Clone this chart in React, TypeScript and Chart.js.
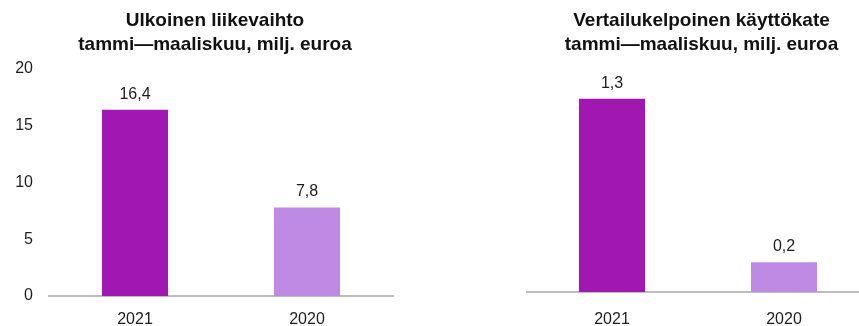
import React, { useEffect, useRef } from 'react';
import { Chart, registerables } from 'chart.js';

Chart.register(...registerables);

// ---- data ----
const categories = ['2021', '2020'];
const revenueValues = [16.4, 7.8];
const ebitdaValues = [1.3, 0.2];
const revenueTitle = ['Ulkoinen liikevaihto', 'tammi—maaliskuu, milj. euroa'];
const ebitdaTitle = ['Vertailukelpoinen käyttökate', 'tammi—maaliskuu, milj. euroa'];
const revenueTicks = [0, 5, 10, 15, 20];
const ebitdaMax = 1.5;
const barColors = ['#A117B1', '#BE8AE4'];

const FONT = '"Liberation Sans", Arial, sans-serif';
const TEXT = '#1e1e1e';

const valueLabels = {
  id: 'valueLabels',
  afterDatasetsDraw(chart: any) {
    const ctx = chart.ctx;
    chart.data.datasets.forEach((ds: any, di: number) => {
      const meta = chart.getDatasetMeta(di);
      meta.data.forEach((bar: any, i: number) => {
        const v = ds.data[i] as number;
        ctx.save();
        ctx.font = `16px ${FONT}`;
        ctx.fillStyle = TEXT;
        ctx.textAlign = 'center';
        ctx.textBaseline = 'alphabetic';
        ctx.fillText(v.toFixed(1).replace('.', ','), bar.x, bar.y - 11);
        ctx.restore();
      });
    });
  },
};

type PanelProps = {
  values: number[];
  title: string[];
  left: number;
  width: number;
  showY: boolean;
  yWidth: number;
  rightWidth: number;
  max: number;
  ticks?: number[];
  xPad: number;
  xHeight: number;
};

function BarPanel(p: PanelProps) {
  const ref = useRef<HTMLCanvasElement>(null);
  useEffect(() => {
    if (!ref.current) return;
    const chart = new Chart(ref.current, {
      type: 'bar',
      data: {
        labels: categories,
        datasets: [
          {
            data: p.values,
            backgroundColor: barColors,
            borderWidth: 0,
            barPercentage: 0.384,
            categoryPercentage: 1,
          },
        ],
      },
      options: {
        responsive: false,
        animation: false,
        layout: { padding: 0 },
        plugins: {
          legend: { display: false },
          tooltip: { enabled: false },
          title: {
            display: true,
            text: p.title,
            color: '#111',
            font: { family: FONT, size: 19, weight: 'bold', lineHeight: 24 / 19 },
            padding: { top: 9, bottom: 12 },
          },
        },
        scales: {
          x: {
            grid: { display: false, drawTicks: false },
            border: { display: true, color: '#bdbdbd', width: 2 },
            ticks: { color: TEXT, font: { family: FONT, size: 16 }, padding: p.xPad },
            afterFit: (s: any) => {
              s.height = p.xHeight;
            },
          },
          y: {
            display: p.showY,
            min: 0,
            max: p.max,
            grid: { display: false, drawTicks: false },
            border: { display: false },
            ticks: { color: TEXT, font: { family: FONT, size: 16 }, padding: 16 },
            afterBuildTicks: (s: any) => {
              if (p.ticks) s.ticks = p.ticks.map((v) => ({ value: v }));
            },
            afterFit: (s: any) => {
              s.width = p.yWidth;
            },
          },
          yR: {
            position: 'right',
            display: true,
            min: 0,
            max: 1,
            grid: { display: false, drawTicks: false },
            border: { display: false },
            ticks: { display: false },
            afterFit: (s: any) => {
              s.width = p.rightWidth;
            },
          },
        },
      } as any,
      plugins: [valueLabels],
    });
    return () => chart.destroy();
  }, []);
  return (
    <canvas
      ref={ref}
      width={p.width}
      height={326}
      style={{ position: 'absolute', left: p.left, top: 0, width: p.width, height: 326 }}
    />
  );
}

export default function App() {
  return (
    <div
      style={{
        position: 'fixed',
        left: 0,
        top: 0,
        width: 859,
        height: 326,
        overflow: 'hidden',
        background: '#fff',
      }}
    >
      <BarPanel
        values={revenueValues}
        title={revenueTitle}
        left={0}
        width={430}
        showY={true}
        yWidth={49}
        rightWidth={37}
        max={20}
        ticks={revenueTicks}
        xPad={14}
        xHeight={30}
      />
      <BarPanel
        values={ebitdaValues}
        title={ebitdaTitle}
        left={526}
        width={351}
        showY={false}
        yWidth={0}
        rightWidth={7}
        max={ebitdaMax}
        xPad={18}
        xHeight={34}
      />
    </div>
  );
}
